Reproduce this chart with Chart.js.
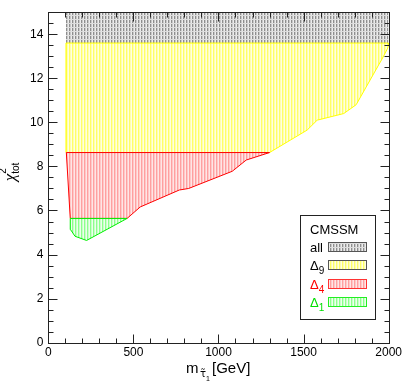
<!DOCTYPE html>
<html>
<head>
<meta charset="utf-8">
<script src="https://cdn.jsdelivr.net/npm/chart.js@4.4.1/dist/chart.umd.min.js"></script>
<style>
  html, body { margin: 0; padding: 0; background: #fff; }
  #wrap { width: 405px; height: 382px; }
</style>
</head>
<body>
<div id="wrap"><canvas id="grafico"></canvas></div>
<script>
// region outlines (m_stau in GeV, chi2_tot)
const allX = [104, 2000, 2000, 104, 104];
const allY = [13.6, 13.6, 15, 15, 13.6];

const d9X = [104, 2000, 2000, 1965, 1809, 1736, 1580, 1521, 1300, 104, 104];
const d9Y = [13.6, 13.6, 13.45, 12.93, 10.8, 10.4, 10.1, 9.65, 8.63, 8.63, 13.6];

const d4X = [106, 1300, 1163, 1081, 825, 770, 540, 463, 129, 106];
const d4Y = [8.63, 8.63, 8.29, 7.78, 7.0, 6.93, 6.16, 5.64, 5.64, 8.63];

const d1X = [129, 463, 225, 157, 131, 129];
const d1Y = [5.64, 5.64, 4.64, 4.83, 5.13, 5.64];

const xTicks = [0, 500, 1000, 1500, 2000];
const yTicks = [0, 2, 4, 6, 8, 10, 12, 14];

const legendTitle = "CMSSM";
const legendBase = ["all", "Δ", "Δ", "Δ"];
const legendSub = ["", "9", "4", "1"];
const legendText = ["#000000", "#000000", "#ff0000", "#00dd00"];

const FONT = "'Liberation Sans', Arial, sans-serif";

function toPoints(xs, ys) {
  return xs.map((x, i) => ({ x: x, y: ys[i] }));
}

// vertical hatch tile, 3px period
function hatch(strong, light, gap, band) {
  const c = document.createElement("canvas");
  c.width = 3; c.height = 4;
  const g = c.getContext("2d");
  g.fillStyle = gap; g.fillRect(0, 0, 3, 4);
  g.fillStyle = strong; g.fillRect(0, 0, 1, 4);
  g.fillStyle = light; g.fillRect(1, 0, 1, 4);
  if (band) { g.fillStyle = band; g.fillRect(0, 3, 3, 1); }
  return g.createPattern(c, "repeat");
}

const patAll = hatch("#8e8e8e", "#c8c8c8", "#ececec", "#dddddd");
const patD9 = hatch("#ffff66", "#ffffb0", "#ffffe0");
const patD4 = hatch("#ffa0a0", "#ffc8c8", "#ffe6e6");
const patD1 = hatch("#8cff8c", "#c8ffc8", "#ecffec");

const decor = {
  id: "decor",
  beforeDatasetDraw(chart, args) {
    const pts = args.meta.data;
    const ds = chart.data.datasets[args.index];
    const a = chart.chartArea;
    const ctx = chart.ctx;
    ctx.save();
    ctx.beginPath();
    ctx.rect(a.left, a.top, a.right - a.left, a.bottom - a.top);
    ctx.clip();
    ctx.beginPath();
    pts.forEach((p, i) => (i === 0 ? ctx.moveTo(p.x, p.y) : ctx.lineTo(p.x, p.y)));
    ctx.closePath();
    ctx.fillStyle = ds.backgroundColor;
    ctx.fill();
    ctx.restore();
  },
  afterDraw(chart) {
    const ctx = chart.ctx;
    const xs = chart.scales.x, ys = chart.scales.y;
    const a = chart.chartArea;
    const L = Math.round(a.left) + 0.5, R = Math.round(a.right) + 0.5;
    const T = Math.round(a.top) + 0.5, B = Math.round(a.bottom) + 0.5;
    ctx.save();
    ctx.strokeStyle = "#222";
    ctx.lineWidth = 1;
    ctx.strokeRect(L, T, R - L, B - T);
    ctx.beginPath();
    for (let v = 0; v <= 2000; v += 100) {
      const px = Math.round(xs.getPixelForValue(v)) + 0.5;
      const len = v % 500 === 0 ? 9 : 5;
      ctx.moveTo(px, B); ctx.lineTo(px, B - len);
      ctx.moveTo(px, T); ctx.lineTo(px, T + len);
    }
    for (let v = 0; v <= 15; v += 0.5) {
      const py = Math.round(ys.getPixelForValue(v)) + 0.5;
      const len = v % 2 === 0 ? 9 : 5;
      ctx.moveTo(L, py); ctx.lineTo(L + len, py);
      ctx.moveTo(R, py); ctx.lineTo(R - len, py);
    }
    ctx.stroke();

    // x title: m_{stau_1} [GeV]
    ctx.fillStyle = "#000";
    ctx.textBaseline = "alphabetic";
    ctx.textAlign = "left";
    ctx.font = "15px " + FONT;
    ctx.fillText("m", 186, 373);
    ctx.font = "10px 'DejaVu Sans'";
    ctx.fillText("τ̃", 200, 377);
    ctx.font = "7px " + FONT;
    ctx.fillText("1", 206, 381);
    ctx.font = "15px " + FONT;
    ctx.fillText("[GeV]", 212, 373);

    // y title: chi^2_tot
    ctx.save();
    ctx.translate(15, 172);
    ctx.rotate(-Math.PI / 2);
    ctx.font = "italic 17px 'Liberation Serif'";
    const wc = ctx.measureText("χ").width;
    ctx.font = "10px " + FONT;
    const wt = ctx.measureText("tot").width;
    let x0 = -(wc + wt) / 2;
    ctx.font = "italic 17px 'Liberation Serif'";
    ctx.fillText("χ", x0, 0);
    ctx.font = "10px " + FONT;
    ctx.fillText("2", x0 + wc, -9);
    ctx.fillText("tot", x0 + wc, 4);
    ctx.restore();

    // legend
    ctx.strokeStyle = "#222";
    ctx.strokeRect(300.5, 215.5, 75, 104);
    ctx.font = "13px " + FONT;
    ctx.fillStyle = "#000";
    ctx.fillText(legendTitle, 310, 234);
    const dsets = chart.data.datasets;
    legendBase.forEach((t, i) => {
      const base = 252 + i * 18.3;
      ctx.fillStyle = legendText[i];
      ctx.font = "13px " + FONT;
      ctx.fillText(t, 310, base);
      if (legendSub[i]) {
        const w = ctx.measureText(t).width;
        ctx.font = "10px " + FONT;
        ctx.fillText(legendSub[i], 310 + w, base + 4);
      }
      const top = Math.round(base - 10) + 0.5;
      ctx.fillStyle = dsets[i].backgroundColor;
      ctx.fillRect(328.5, top, 38, 9);
      ctx.strokeStyle = dsets[i].legendStroke;
      ctx.strokeRect(328.5, top, 38, 9);
    });
    ctx.restore();
  }
};

const ctxGrafico = document.getElementById("grafico").getContext("2d");
new Chart(ctxGrafico, {
  type: "scatter",
  data: {
    datasets: [
      { label: "all", data: toPoints(allX, allY), backgroundColor: patAll, borderColor: "rgba(0,0,0,0)",
        borderWidth: 0, legendStroke: "#555", order: 4 },
      { label: "Δ9", data: toPoints(d9X, d9Y), backgroundColor: patD9, borderColor: "#ffff00",
        borderWidth: 1, legendStroke: "#555", order: 3 },
      { label: "Δ4", data: toPoints(d4X, d4Y), backgroundColor: patD4, borderColor: "#ff0000",
        borderWidth: 1, legendStroke: "#ff3333", order: 2 },
      { label: "Δ1", data: toPoints(d1X, d1Y), backgroundColor: patD1, borderColor: "#00ee00",
        borderWidth: 1, legendStroke: "#22ee22", order: 1 },
    ],
  },
  options: {
    responsive: true,
    maintainAspectRatio: false,
    animation: false,
    events: [],
    showLine: true,
    elements: { point: { radius: 0 }, line: { tension: 0, fill: false } },
    layout: { padding: { top: 3.5, right: 15.5, left: 0, bottom: 0 } },
    plugins: { legend: { display: false }, tooltip: { enabled: false } },
    scales: {
      x: {
        type: "linear", min: 0, max: 2000,
        grid: { display: false, drawTicks: false, tickLength: 0 },
        border: { display: false },
        afterBuildTicks: s => { s.ticks = xTicks.map(v => ({ value: v })); },
        afterFit: s => { s.height = 39.3; },
        ticks: { autoSkip: false, maxRotation: 0, padding: 3, color: "#000",
          font: { family: FONT, size: 12 }, callback: v => String(v) },
      },
      y: {
        type: "linear", min: 0, max: 15,
        grid: { display: false, drawTicks: false, tickLength: 0 },
        border: { display: false },
        afterBuildTicks: s => { s.ticks = yTicks.map(v => ({ value: v })); },
        afterFit: s => { s.width = 48.3; },
        ticks: { autoSkip: false, padding: 5, color: "#000",
          font: { family: FONT, size: 12 }, callback: v => String(v) },
      },
    },
  },
  plugins: [decor],
});
</script>
</body>
</html>
